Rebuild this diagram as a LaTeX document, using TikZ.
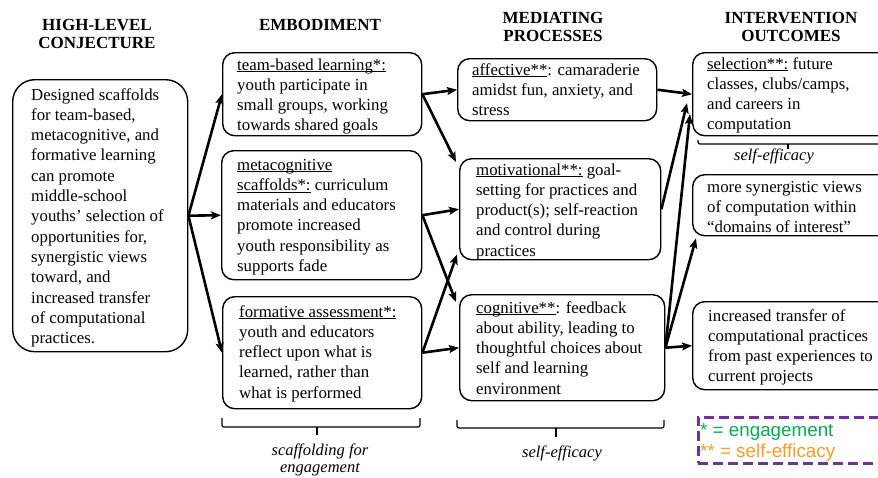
\documentclass[tikz,border=0pt]{standalone}
\usepackage{fontspec}
\setmainfont{Liberation Serif}
\newfontfamily\legendfont{Liberation Sans}
\usetikzlibrary{arrows.meta}

\definecolor{legpurple}{HTML}{7030A0}
\definecolor{leggreen}{HTML}{00B050}
\definecolor{legorange}{HTML}{FF9A1F}

% underline sitting just below the baseline
\newcommand\ulx[1]{\leavevmode\setbox0=\hbox{#1}\rlap{\rule[-2.4pt]{\wd0}{1.1pt}}\box0\relax}
% multi-line text block whose reference point is the first baseline
\newcommand\blockl[1]{\parbox[t]{240pt}{\raggedright #1}}
\newcommand\blockc[1]{\parbox[t]{240pt}{\centering #1}}

\begin{document}
\begin{tikzpicture}[x=1pt, y=-1pt,
  box/.style={draw, line width=1.4pt, rounded corners=12pt, anchor=north west, inner sep=0pt},
  txt/.style={inner sep=0pt, anchor=base west, font=\fontsize{16.8}{20.3}\selectfont},
  hdr/.style={inner sep=0pt, anchor=base, font=\fontsize{17}{18.8}\selectfont\bfseries},
  note/.style={inner sep=0pt, anchor=base, font=\fontsize{16.5}{17}\selectfont\itshape},
  conn/.style={line width=2.6pt, -{Stealth[length=10pt,width=8pt,inset=2pt]}},
  brk/.style={line width=1.2pt, rounded corners=2pt},
  legtxt/.style={inner sep=0pt, anchor=base west, font=\legendfont\fontsize{18.8}{21}\selectfont}]
\useasboundingbox (0,0) rectangle (878,477);
\clip (0,0) rectangle (878,477);

% column headings
\node[hdr] (h1) at (97,30) {\blockc{HIGH-LEVEL\\CONJECTURE}};
\node[hdr] (h2) at (320,30) {\blockc{EMBODIMENT}};
\node[hdr] (h3) at (553,23) {\blockc{MEDIATING\\PROCESSES}};
\node[hdr] (h4) at (791,23) {\blockc{INTERVENTION\\OUTCOMES}};

% boxes
\node[box, rounded corners=22pt, minimum width=175pt, minimum height=272pt] (hl) at (12,79) {};
\node[box, minimum width=199pt, minimum height=83pt] (emb1) at (222,52) {};
\node[box, minimum width=200pt, minimum height=129pt] (emb2) at (221,150) {};
\node[box, minimum width=199pt, minimum height=112pt] (emb3) at (222,296) {};
\node[box, minimum width=199pt, minimum height=62pt] (aff) at (457,58) {};
\node[box, minimum width=201pt, minimum height=101pt] (mot) at (459,158) {};
\node[box, minimum width=205pt, minimum height=106pt] (cog) at (459,294) {};
\node[box, minimum width=220pt, minimum height=83pt] (sel) at (692,52) {};
\node[box, minimum width=220pt, minimum height=61pt] (syn) at (692,174) {};
\node[box, minimum width=220pt, minimum height=88pt] (inc) at (692,301) {};

% box texts
\node[txt] (hlt) at (31,100) {\blockl{Designed scaffolds\\for team-based,\\metacognitive, and\\formative learning\\can promote\\middle-school\\youths’ selection of\\opportunities for,\\synergistic views\\toward, and\\increased transfer\\of computational\\practices.}};
\node[txt] (emb1t) at (237,70) {\blockl{\ulx{team-based learning*:}\\youth participate in\\small groups, working\\towards shared goals}};
\node[txt] (emb2t) at (237,170) {\blockl{\ulx{metacognitive}\\\ulx{scaffolds*:} curriculum\\materials and educators\\promote increased\\youth responsibility as\\supports fade}};
\node[txt] (emb3t) at (239,317) {\blockl{\ulx{formative assessment*:}\\youth and educators\\reflect upon what is\\learned, rather than\\what is performed}};
\node[txt] (afft) at (472,75) {\blockl{\ulx{affective**}: camaraderie\\amidst fun, anxiety, and\\stress}};
\node[txt] (mott) at (476,175) {\blockl{\ulx{motivational**:} goal-\\setting for practices and\\product(s); self-reaction\\and control during\\practices}};
\node[txt] (cogt) at (476,313) {\blockl{\ulx{cognitive**}: feedback\\about ability, leading to\\thoughtful choices about\\self and learning\\environment}};
\node[txt] (selt) at (707,69) {\blockl{\ulx{selection**:} future\\classes, clubs/camps,\\and careers in\\computation}};
\node[txt] (synt) at (707,192) {\blockl{more synergistic views\\of computation within\\“domains of interest"}};
\node[txt] (inct) at (708,321) {\blockl{increased transfer of\\computational practices\\from past experiences to\\current projects}};

% connectors
\draw[conn] (hl.east) -- (emb1.west);
\draw[conn] (hl.east) -- (emb2.west);
\draw[conn] (hl.east) -- (emb3.west);
\draw[conn] (emb1.east) -- (aff.west);
\draw[conn] (emb1.east) -- ([xshift=-3pt,yshift=-4pt]mot.north west);
\draw[conn] (emb2.east) -- (mot.west);
\draw[conn] (emb2.east) -- ([xshift=-3pt,yshift=-8pt]cog.north west);
\draw[conn] (emb3.east) -- (cog.west);
\draw[conn] (emb3.east) -- ([xshift=-2pt,yshift=6pt]mot.south west);
\draw[conn] (aff.east) -- (sel.west);
\draw[conn] (mot.east) -- ([xshift=-5pt,yshift=-9pt]sel.west);
\draw[conn] (cog.east) -- ([xshift=-2pt,yshift=-20pt]sel.west);
\draw[conn] (cog.east) -- ([xshift=4pt,yshift=-2pt]syn.south west);
\draw[conn] (cog.east) -- (inc.west);

% braces with their labels
\draw[brk] (222,418) |- (420,427) -- (420,418);
\draw[brk] (317,427) -- (317,435);
\node[note] (scaf) at (320,455) {\blockc{scaffolding for\\engagement}};
\draw[brk] (457,420) |- (664,428) -- (664,420);
\draw[brk] (556,428) -- (556,437);
\node[note] (seb) at (562,457) {\blockc{self-efficacy}};
\draw[brk] (698,140) |- (900,144);
\draw[brk] (788,144) -- (788,149);
\node[note] (set) at (774,160) {\blockc{self-efficacy}};

% legend
\node[draw=legpurple, line width=2.8pt, dash pattern=on 10pt off 5pt, anchor=north west,
      minimum width=210pt, minimum height=46pt, inner sep=0pt] (leg) at (697,416) {};
\node[legtxt, text=leggreen] (lg1) at (700,436) {* = engagement};
\node[legtxt, text=legorange] (lg2) at (700,457) {** = self-efficacy};
\end{tikzpicture}
\end{document}
